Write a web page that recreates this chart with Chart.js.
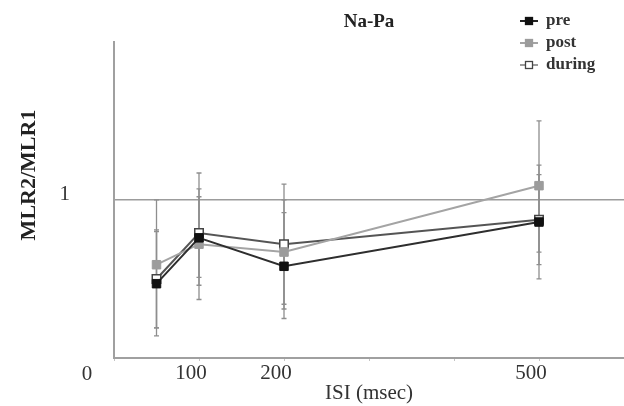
<!DOCTYPE html>
<html>
<head>
<meta charset="utf-8">
<script src="https://cdn.jsdelivr.net/npm/chart.js@4.4.0/dist/chart.umd.min.js"></script>
<style>
  body { margin: 0; background: #fff; }
  #w { width: 624px; height: 406px; }
</style>
</head>
<body>
<div id="w"><canvas id="myChart"></canvas></div>
<script>
// ISI values (msec)
var isi = [50, 100, 200, 500]
var xTicks = [0, 100, 200, 300, 400, 500, 600]
var xTickLabels = [100, 200, 500]
var yTicks = [1]

// MLR2/MLR1 means
var pre = [0.47, 0.76, 0.58, 0.86]
var post = [0.59, 0.72, 0.67, 1.09]
var during = [0.50, 0.79, 0.72, 0.875]

// error bar ends
var preLow = [0.14, 0.46, 0.31, 0.50]
var preHigh = [0.80, 1.02, 0.92, 1.22]
var postLow = [0.19, 0.37, 0.25, 0.67]
var postHigh = [1.00, 1.17, 1.00, 1.50]
var duringLow = [0.19, 0.51, 0.34, 0.59]
var duringHigh = [0.81, 1.07, 1.10, 1.16]

var SERIF = "'Liberation Serif', 'Times New Roman', serif"

function toPoints(vals) {
    return vals.map(function (v, i) { return { x: isi[i], y: v } })
}

// vertical error bars drawn under the markers
var errorBars = {
    id: 'errorBars',
    beforeDatasetsDraw: function (chart) {
        var ctx = chart.ctx
        var xs = chart.scales.x
        var ys = chart.scales.y
        ctx.save()
        ctx.strokeStyle = '#8e8e8e'
        ctx.lineWidth = 1.3
        chart.data.datasets.forEach(function (ds) {
            for (var i = 0; i < isi.length; i++) {
                var px = xs.getPixelForValue(isi[i])
                var top = ys.getPixelForValue(ds.high[i])
                var bot = ys.getPixelForValue(ds.low[i])
                ctx.beginPath()
                ctx.moveTo(px, top); ctx.lineTo(px, bot)
                ctx.moveTo(px - 2.5, top); ctx.lineTo(px + 2.5, top)
                ctx.moveTo(px - 2.5, bot); ctx.lineTo(px + 2.5, bot)
                ctx.stroke()
            }
        })
        ctx.restore()
    }
}

// extra texts: origin "0", y title, legend
var extras = {
    id: 'extras',
    afterDraw: function (chart) {
        var ctx = chart.ctx
        var xs = chart.scales.x
        ctx.save()
        ctx.fillStyle = '#333'
        ctx.font = "21px " + SERIF
        ctx.textAlign = 'center'
        ctx.textBaseline = 'middle'
        ctx.fillText('0', xs.left - 27, xs.top + 16)

        ctx.save()
        ctx.translate(29, 175)
        ctx.rotate(-Math.PI / 2)
        ctx.font = "bold 22px " + SERIF
        ctx.fillStyle = '#222'
        ctx.fillText('MLR2/MLR1', 0, 0)
        ctx.restore()

        ctx.font = "bold 17px " + SERIF
        ctx.textAlign = 'left'
        chart.data.datasets.forEach(function (ds, i) {
            var y = 21 + i * 22
            ctx.strokeStyle = ds.legendColor
            ctx.lineWidth = 2
            ctx.beginPath()
            ctx.moveTo(520, y); ctx.lineTo(538, y)
            ctx.stroke()
            ctx.fillStyle = ds.pointBackgroundColor
            ctx.strokeStyle = ds.pointBorderColor
            ctx.lineWidth = 1.3
            ctx.fillRect(525.5, y - 3.5, 7, 7)
            ctx.strokeRect(525.5, y - 3.5, 7, 7)
            ctx.fillStyle = '#333'
            ctx.fillText(ds.label, 546, y)
        })
        ctx.restore()
    }
}

function loadChart() {
    var ctx = document.getElementById('myChart').getContext('2d')
    var myChart = new Chart(ctx, {
        type: 'line',
        data: {
            datasets: [{
                label: 'pre',
                data: toPoints(pre),
                low: preLow, high: preHigh,
                borderColor: '#2e2e2e',
                legendColor: '#222',
                borderWidth: 2,
                pointStyle: 'rect',
                pointRadius: 6,
                pointBackgroundColor: '#111',
                pointBorderColor: '#111',
                pointBorderWidth: 1
            }, {
                label: 'post',
                data: toPoints(post),
                low: postLow, high: postHigh,
                borderColor: '#a4a4a4',
                legendColor: '#a4a4a4',
                borderWidth: 2,
                pointStyle: 'rect',
                pointRadius: 6,
                pointBackgroundColor: '#9c9c9c',
                pointBorderColor: '#9c9c9c',
                pointBorderWidth: 1
            }, {
                label: 'during',
                data: toPoints(during),
                low: duringLow, high: duringHigh,
                borderColor: '#555',
                legendColor: '#9a9a9a',
                borderWidth: 2,
                pointStyle: 'rect',
                pointRadius: 6,
                pointBackgroundColor: '#fff',
                pointBorderColor: '#444',
                pointBorderWidth: 1.5
            }]
        },
        options: {
            responsive: true,
            maintainAspectRatio: false,
            animation: false,
            layout: { padding: 0, autoPadding: false },
            plugins: {
                legend: { display: false },
                tooltip: { enabled: false },
                title: {
                    display: true,
                    text: 'Na-Pa',
                    fullSize: false,
                    color: '#222',
                    font: { family: SERIF, size: 19, weight: 'bold' },
                    padding: { top: 11, bottom: 8 }
                }
            },
            scales: {
                x: {
                    type: 'linear',
                    min: 0,
                    max: 600,
                    afterFit: function (s) {
                        s.height = 48
                        s.paddingLeft = 0
                        s.paddingRight = 0
                    },
                    afterBuildTicks: function (s) {
                        s.ticks = xTicks.map(function (v) { return { value: v } })
                    },
                    ticks: {
                        autoSkip: false,
                        maxRotation: 0,
                        padding: 0,
                        labelOffset: -8,
                        color: '#333',
                        font: { family: SERIF, size: 21 },
                        callback: function (v) { return xTickLabels.indexOf(v) >= 0 ? String(v) : '' }
                    },
                    grid: { drawOnChartArea: false, drawTicks: true, tickLength: 3, color: '#c4c4c4' },
                    border: { display: true, color: '#a0a0a0', width: 2 },
                    title: {
                        display: true,
                        text: 'ISI (msec)',
                        color: '#333',
                        font: { family: SERIF, size: 21 },
                        padding: 0
                    }
                },
                y: {
                    min: 0,
                    max: 2,
                    afterFit: function (s) {
                        s.width = 114
                        s.paddingTop = 0
                        s.paddingBottom = 0
                    },
                    afterBuildTicks: function (s) {
                        s.ticks = yTicks.map(function (v) { return { value: v } })
                    },
                    ticks: {
                        padding: 44,
                        labelOffset: -5,
                        color: '#333',
                        font: { family: SERIF, size: 21 },
                        callback: function (v) { return String(v) }
                    },
                    grid: {
                        drawTicks: false,
                        lineWidth: 1.6,
                        color: '#9c9c9c'
                    },
                    border: { display: true, color: '#a0a0a0', width: 2 }
                }
            }
        },
        plugins: [errorBars, extras]
    })
}

loadChart()
</script>
</body>
</html>
